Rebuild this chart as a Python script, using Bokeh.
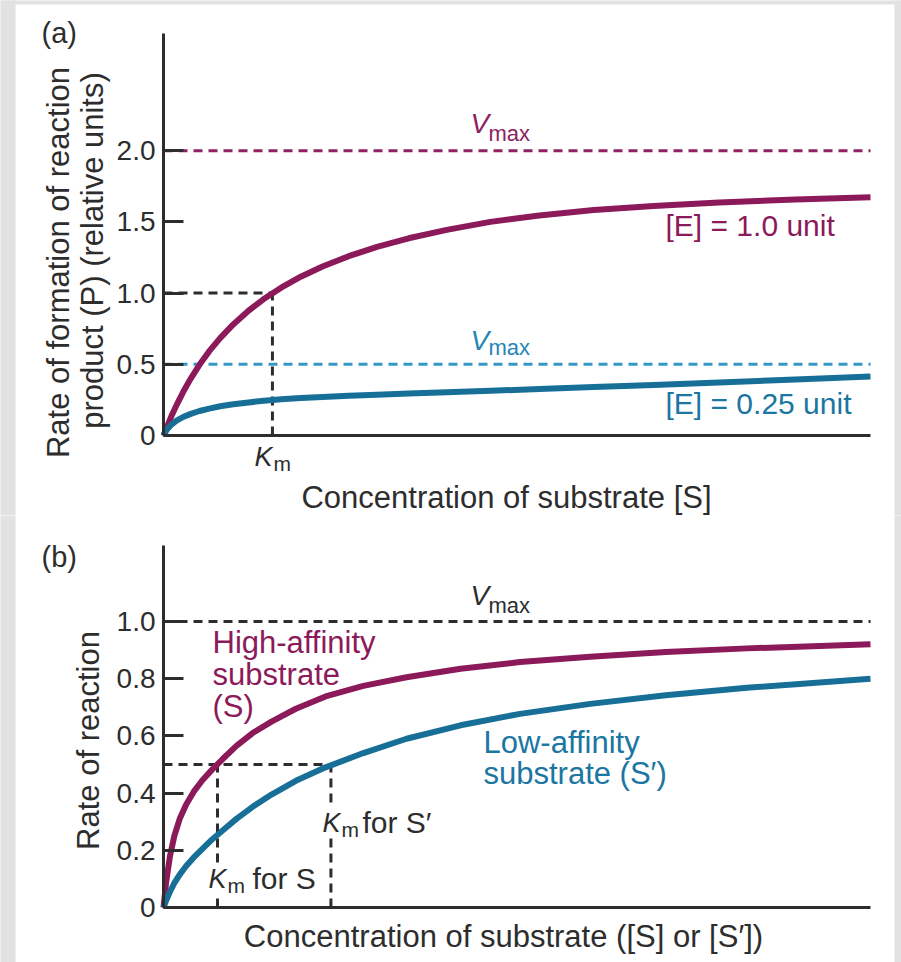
from bokeh.plotting import figure
from bokeh.models import Label, Range1d, FixedTicker, LinearAxis, BoxAnnotation
from bokeh.layouts import column
from bokeh.embed import file_html
from bokeh.resources import INLINE
import math

# ---------------- data ----------------
# Panel (a): substrate concentration in units of Km
s_a = [0, 0.03, 0.07, 0.12, 0.18, 0.25, 0.33, 0.42, 0.52, 0.64, 0.78, 0.92, 1.08, 1.26,
       1.46, 1.7, 1.96, 2.25, 2.6, 3.0, 3.45, 3.95, 4.5, 5.1, 5.8, 6.49]
rate_e_1 = [0, 0.058, 0.131, 0.214, 0.305, 0.40, 0.496, 0.592, 0.684, 0.78, 0.876, 0.958,
            1.038, 1.115, 1.187, 1.259, 1.324, 1.385, 1.444, 1.50, 1.545, 1.583, 1.612,
            1.637, 1.657, 1.673]
rate_e_025 = [0, 0.04, 0.075, 0.104, 0.13, 0.152, 0.172, 0.189, 0.205, 0.219, 0.232, 0.244,
              0.254, 0.263, 0.271, 0.279, 0.287, 0.295, 0.304, 0.314, 0.326, 0.34, 0.355,
              0.372, 0.393, 0.414]
vmax_a = [2.0, 0.5]
km_a = 1.0
half_vmax_a = 1.0
yticks_a = [0, 0.5, 1.0, 1.5, 2.0]
ylabels_a = ["0", "0.5", "1.0", "1.5", "2.0"]
ytop_a = 2.823

# Panel (b): substrate concentration in units of Km for S
s_b = [0, 0.05, 0.12, 0.2, 0.3, 0.42, 0.56, 0.72, 0.9, 1.1, 1.35, 1.65, 2.0, 2.45, 3.0,
       3.7, 4.5, 5.5, 6.6, 7.9, 9.3, 10.8, 13.09]
rate_high = [0, 0.09, 0.18, 0.25, 0.31, 0.36, 0.405, 0.445, 0.482, 0.52, 0.565, 0.61, 0.65,
             0.695, 0.738, 0.775, 0.805, 0.835, 0.858, 0.877, 0.893, 0.906, 0.92]
rate_low = [0, 0.025, 0.055, 0.085, 0.115, 0.145, 0.175, 0.205, 0.238, 0.27, 0.31, 0.352,
            0.395, 0.443, 0.49, 0.54, 0.59, 0.637, 0.677, 0.712, 0.742, 0.768, 0.80]
vmax_b = 1.0
km_b = [1.0, 3.1]
half_vmax_b = 0.5
yticks_b = [0, 0.2, 0.4, 0.6, 0.8, 1.0]
ylabels_b = ["0", "0.2", "0.4", "0.6", "0.8", "1.0"]
ytop_b = 1.2657

# ---------------- styles ----------------
FONT = "Liberation Sans"
INK = "#2d2d2d"
MAG = "#8c1a5a"
MAG_DASH = "#8e2262"
BLUE = "#176f98"
BLUE_DASH = "#3398c6"
BLUE_TXT = "#1b76a2"
BLUE_VMAX = "#2486b6"
FRAME_GRAY = "#e2e2e2"
DASH = "9 6"
BASE_FIX = 10          # baseline correction for alphabetic labels (px)

# page-pixel geometry
PAGE_W = 901
WHITE_L, WHITE_R, WHITE_T = 15, 894, 4
AX_L, AX_R = 163, 870


def make_fig(fig_top, fig_bot, ax_top, ax_bot, xend, ytop, yticks, ylabels):
    pxx = (AX_R - AX_L) / xend          # pixels per x unit
    pxy = (ax_bot - ax_top) / ytop      # pixels per y unit
    xr = Range1d((0 - AX_L) / pxx, (PAGE_W - AX_L) / pxx)
    yr = Range1d((ax_bot - fig_bot) / pxy, (ax_bot - fig_top) / pxy)
    p = figure(width=PAGE_W, height=fig_bot - fig_top, output_backend="svg",
               toolbar_location=None, x_range=xr, y_range=yr,
               x_axis_location=None, y_axis_location=None, min_border=0)
    p.grid.visible = False
    p.outline_line_color = None
    p.background_fill_color = "white"
    p.border_fill_color = "white"
    fx = lambda px: (px - AX_L) / pxx
    fy = lambda py: (ax_bot - py) / pxy
    # grey page frame around the white figure area
    gy0, gy1 = fy(fig_bot + 2), fy(fig_top - 2)
    p.add_layout(BoxAnnotation(left=fx(-2), right=fx(WHITE_L), bottom=gy0, top=gy1,
                               fill_color=FRAME_GRAY, fill_alpha=1, line_color=None, level="underlay"))
    p.add_layout(BoxAnnotation(left=fx(WHITE_R), right=fx(PAGE_W + 2), bottom=gy0, top=gy1,
                               fill_color=FRAME_GRAY, fill_alpha=1, line_color=None, level="underlay"))
    if fig_top < WHITE_T:
        p.add_layout(BoxAnnotation(left=fx(-2), right=fx(PAGE_W + 2), bottom=fy(WHITE_T),
                                   top=gy1, fill_color=FRAME_GRAY, fill_alpha=1,
                                   line_color=None, level="underlay"))
    yax = LinearAxis(fixed_location=0, bounds=(0, ytop), ticker=FixedTicker(ticks=yticks))
    yax.major_label_overrides = dict(zip(yticks, ylabels))
    xax = LinearAxis(fixed_location=0, bounds=(0, xend), ticker=FixedTicker(ticks=[]))
    for ax in (xax, yax):
        ax.axis_line_width = 3
        ax.axis_line_color = INK
        ax.major_tick_line_width = 3
        ax.major_tick_line_color = INK
        ax.major_tick_in = 20
        ax.major_tick_out = 0
        ax.minor_tick_line_color = None
        ax.major_label_text_font = FONT
        ax.major_label_text_font_size = "28px"
        ax.major_label_text_color = INK
        ax.major_label_standoff = 8
    p.add_layout(yax, "left")
    p.add_layout(xax, "below")
    return p, fx, fy


def lab(p, fx, fy, px, py, text, size=30, color=INK, italic=False, align="left",
        baseline="alphabetic", angle=0.0, bg=None):
    if baseline == "alphabetic":
        py -= BASE_FIX
    l = Label(x=fx(px), y=fy(py), text=text, text_font=FONT, text_font_size=f"{size}px",
              text_color=color, text_align=align, text_baseline=baseline,
              text_font_style="italic" if italic else "normal", angle=angle)
    if bg:
        l.background_fill_color = bg
    p.add_layout(l)


# ---------------- panel (a) ----------------
pa, xa, ya = make_fig(0, 515, 33, 435, s_a[-1], ytop_a, yticks_a, ylabels_a)

pa.line([0, s_a[-1]], [vmax_a[0], vmax_a[0]], line_color=MAG_DASH, line_width=3, line_dash=DASH)
pa.line([0, s_a[-1]], [vmax_a[1], vmax_a[1]], line_color=BLUE_DASH, line_width=3, line_dash=DASH)
pa.line([0, km_a], [half_vmax_a, half_vmax_a], line_color=INK, line_width=3, line_dash=DASH)
pa.line([km_a, km_a], [0, half_vmax_a], line_color=INK, line_width=3, line_dash=DASH)
pa.line(s_a, rate_e_1, line_color=MAG, line_width=6, line_join="round")
pa.line(s_a, rate_e_025, line_color=BLUE, line_width=6, line_join="round")

A = (pa, xa, ya)
lab(*A, 41, 42, "(a)", size=29)
lab(*A, 58, 262, "Rate of formation of reaction", size=31, align="center",
    baseline="middle", angle=math.pi / 2)
lab(*A, 92, 250, "product (P) (relative units)", size=31, align="center",
    baseline="middle", angle=math.pi / 2)
lab(*A, 470, 133, "V", size=28, color=MAG_DASH, italic=True)
lab(*A, 488, 143, "max", size=22, color=MAG_DASH)
lab(*A, 665, 235, "[E] = 1.0 unit", size=30, color=MAG)
lab(*A, 470, 350, "V", size=28, color=BLUE_VMAX, italic=True)
lab(*A, 488, 357, "max", size=22, color=BLUE_VMAX)
lab(*A, 665, 413, "[E] = 0.25 unit", size=30, color=BLUE_TXT)
lab(*A, 254, 466, "K", size=27, italic=True)
lab(*A, 273, 473, "m", size=21)
lab(*A, 506, 507, "Concentration of substrate [S]", size=31, align="center")

# ---------------- panel (b) ----------------
pb, xb, yb = make_fig(515, 962, 545, 907, s_b[-1], ytop_b, yticks_b, ylabels_b)

pb.line([0, s_b[-1]], [vmax_b, vmax_b], line_color=INK, line_width=3, line_dash=DASH)
pb.line([0, km_b[1]], [half_vmax_b, half_vmax_b], line_color=INK, line_width=3, line_dash=DASH)
for k in km_b:
    pb.line([k, k], [0, half_vmax_b], line_color=INK, line_width=3, line_dash=DASH)
pb.line(s_b, rate_high, line_color=MAG, line_width=6, line_join="round")
pb.line(s_b, rate_low, line_color=BLUE, line_width=6, line_join="round")

B = (pb, xb, yb)
lab(*B, 41, 566, "(b)", size=29)
lab(*B, 88, 740, "Rate of reaction", size=31, align="center",
    baseline="middle", angle=math.pi / 2)
lab(*B, 470, 605, "V", size=28, italic=True)
lab(*B, 488, 615, "max", size=22)
for txt, base in (("High-affinity", 652), ("substrate", 684), ("(S)", 716)):
    lab(*B, 212, base, txt, size=31, color=MAG)
for txt, base in (("Low-affinity", 752), ("substrate (S\u2032)", 783)):
    lab(*B, 483, base, txt, size=31, color=BLUE_TXT)
lab(*B, 322, 832, "K", size=27, italic=True, bg="white")
lab(*B, 341, 839, "m", size=21, bg="white")
lab(*B, 362, 832, "for S\u2032", size=30, bg="white")
lab(*B, 208, 888, "K", size=27, italic=True, bg="white")
lab(*B, 227, 895, "m", size=21, bg="white")
lab(*B, 252, 888, "for S", size=30, bg="white")
lab(*B, 503, 946, "Concentration of substrate ([S] or [S\u2032])", size=31, align="center")

layout = column(pa, pb)
open("out.html", "w").write(file_html(layout, INLINE))
